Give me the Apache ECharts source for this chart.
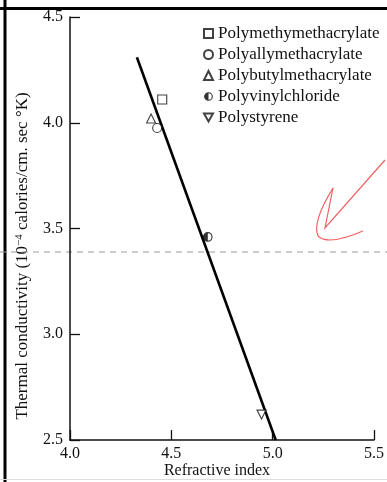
<!DOCTYPE html>
<html>
<head>
<meta charset="utf-8">
<script src="https://cdn.jsdelivr.net/npm/echarts@6/dist/echarts.min.js"></script>
<style>
  html, body { margin: 0; padding: 0; background: #fff; }
  #chart { width: 387px; height: 482px; }
</style>
</head>
<body>
<div id="chart"></div>
<script>
// fitted line end points
const fitX = [4.33, 5.015];
const fitY = [4.31, 2.5];

// measured polymers
const polymers = [
  'Polymethymethacrylate',
  'Polyallymethacrylate',
  'Polybutylmethacrylate',
  'Polyvinylchloride',
  'Polystyrene'
];
const polyX = [4.455, 4.43, 4.40, 4.68, 4.945];
const polyY = [4.11, 3.975, 4.02, 3.46, 2.62];

const xTicks = [4.0, 4.5, 5.0, 5.5];
const yTicks = [2.5, 3.0, 3.5, 4.0, 4.5];

const halfCircle = 'image://data:image/svg+xml;utf8,' + encodeURIComponent(
  "<svg xmlns='http://www.w3.org/2000/svg' width='20' height='20'>" +
  "<circle cx='10' cy='10' r='8.5' fill='white' stroke='black' stroke-width='2.4'/>" +
  "<path d='M10 1.5 A8.5 8.5 0 0 0 10 18.5 Z' fill='black'/></svg>");

const symbols = [
  'rect',
  'circle',
  'triangle',
  halfCircle,
  'path://M0,0 L10,0 L5,9 Z'
];

const serif = '"Liberation Serif", "DejaVu Serif", serif';
const ink = '#111';

const chart = echarts.init(document.getElementById('chart'));

const scatterSeries = polymers.map((name, i) => ({
  name,
  type: 'scatter',
  symbol: symbols[i],
  symbolSize: i === 3 ? 10 : 9,
  data: [[polyX[i], polyY[i]]],
  itemStyle: { color: '#fff', borderColor: ink, borderWidth: 1.1 },
  z: 3
}));

chart.setOption({
  animation: false,
  backgroundColor: '#fff',
  grid: { left: 70, right: 12, top: 17, bottom: 42 },
  legend: {
    data: polymers,
    orient: 'vertical',
    left: 198,
    top: 20,
    itemWidth: 9,
    itemHeight: 9,
    itemGap: 4,
    textStyle: { fontFamily: serif, fontSize: 17, color: ink, lineHeight: 17 }
  },
  xAxis: {
    type: 'value',
    min: xTicks[0],
    max: xTicks[xTicks.length - 1],
    interval: 0.5,
    axisLine: { lineStyle: { color: ink, width: 1.5 } },
    axisTick: { inside: true, length: 10, lineStyle: { color: ink, width: 1.3 } },
    axisLabel: {
      margin: 6,
      fontFamily: serif, fontSize: 16, color: ink,
      formatter: v => v.toFixed(1)
    },
    splitLine: { show: false }
  },
  yAxis: {
    type: 'value',
    min: yTicks[0],
    max: yTicks[yTicks.length - 1],
    interval: 0.5,
    axisLine: { show: true, lineStyle: { color: ink, width: 1.5 } },
    axisTick: { show: true, inside: true, length: 10, lineStyle: { color: ink, width: 1.3 } },
    axisLabel: {
      margin: 7,
      fontFamily: serif, fontSize: 16, color: ink,
      formatter: v => v.toFixed(1)
    },
    splitLine: { show: false }
  },
  graphic: [
    {
      type: 'text',
      x: 217,
      y: 471,
      style: { text: 'Refractive index', font: '16px ' + serif, fill: ink, align: 'center', verticalAlign: 'middle' }
    },
    {
      type: 'text',
      x: 23,
      y: 256,
      rotation: Math.PI / 2,
      style: {
        text: 'Thermal conductivity (10{sup|−4} calories/cm. sec °K)',
        font: '17px ' + serif,
        fill: ink,
        align: 'center',
        verticalAlign: 'middle',
        rich: {
          sup: { fontSize: 11, fontFamily: serif, fill: ink, verticalAlign: 'top', padding: [0, 0, 8, 0] }
        }
      }
    },
    // scan frame
    { type: 'line', shape: { x1: 5, y1: 0, x2: 5, y2: 482 }, style: { stroke: '#000', lineWidth: 3 } },
    { type: 'line', shape: { x1: 0, y1: 8.5, x2: 387, y2: 8.5 }, style: { stroke: '#000', lineWidth: 3 } },
    { type: 'line', shape: { x1: 0, y1: 479.5, x2: 387, y2: 479.5 }, style: { stroke: '#ddd', lineWidth: 1 } },
    // dashed guide line across the scan
    { type: 'line', shape: { x1: 0, y1: 252, x2: 387, y2: 252 }, style: { stroke: '#9a9a9a', lineWidth: 1, lineDash: [6, 5] } },
    // red pen mark
    { type: 'polyline', shape: { points: [[385, 160], [325, 228], [333, 188]] }, style: { stroke: '#f06060', lineWidth: 1.2, fill: null } },
    { type: 'bezierCurve', shape: { x1: 333, y1: 188, cpx1: 312, cpy1: 222, x2: 318, y2: 236 }, style: { stroke: '#f06060', lineWidth: 1.2, fill: null } },
    { type: 'bezierCurve', shape: { x1: 318, y1: 236, cpx1: 328, cpy1: 246, x2: 363, y2: 231 }, style: { stroke: '#f06060', lineWidth: 1.2, fill: null } }
  ],
  series: [
    {
      name: 'fit',
      type: 'line',
      data: fitX.map((x, i) => [x, fitY[i]]),
      symbol: 'none',
      lineStyle: { color: '#000', width: 2.6 },
      z: 2
    },
    ...scatterSeries
  ]
});
</script>
</body>
</html>
